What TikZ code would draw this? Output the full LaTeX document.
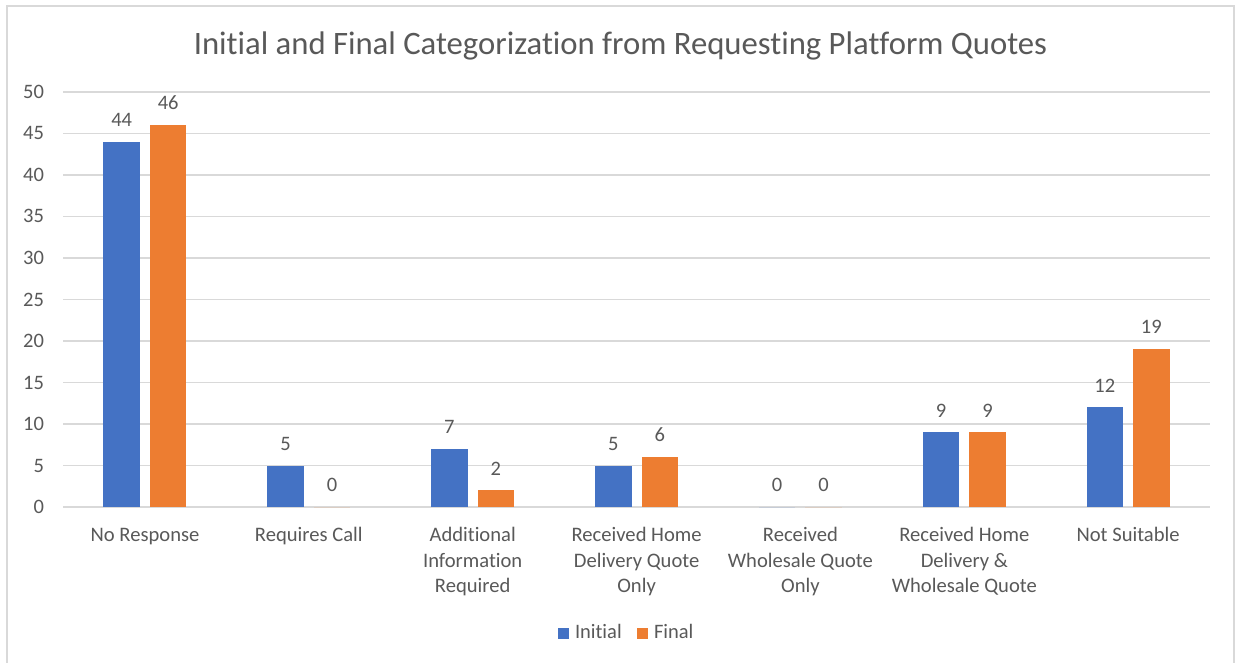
\documentclass[tikz,border=0pt]{standalone}
\usepackage{fontspec}
\setmainfont[Ligatures={NoCommon}]{Carlito}
\definecolor{txt}{HTML}{595959}
\definecolor{gridc}{HTML}{D9D9D9}
\definecolor{cblue}{HTML}{4472C4}
\definecolor{corange}{HTML}{ED7D31}
\begin{document}
\begin{tikzpicture}[x=1pt,y=-1pt,
  every node/.style={text=txt, inner sep=0pt, outer sep=0pt},
  gridline/.style={draw=gridc, line width=1.3pt},
  framel/.style={draw=gridc, line width=1.2pt},
  ticklbl/.style={anchor=base east, font=\fontsize{20.5}{24}\selectfont},
  datalbl/.style={anchor=base, font=\fontsize{20.5}{24}\selectfont},
  catlbl/.style={anchor=base, font=\fontsize{20.6}{24}\selectfont},
  titlelbl/.style={anchor=base, font=\fontsize{32.7}{38}\selectfont},
  leglbl/.style={anchor=base west, font=\fontsize{20.5}{24}\selectfont}]
\useasboundingbox (0,0) rectangle (1235,663);
\fill[white] (0,0) rectangle (1235,663);
\draw[framel] (7,670) -- (7,6) -- (1234,6) -- (1234,670);
\node[titlelbl] (title) at (620.5,55) {Initial and Final Categorization from Requesting Platform Quotes};
\foreach \k in {0,...,10} {
  \pgfmathsetmacro\yy{507-41.5*\k}
  \pgfmathtruncatemacro\v{5*\k}
  \draw[gridline] (63,\yy) -- (1210,\yy);
  \node[ticklbl] (tick\k) at (44,\yy+6.5) {\v};
}
\foreach \i/\a/\b in {0/44/46,1/5/0,2/7/2,3/5/6,4/0/0,5/9/9,6/12/19} {
  \pgfmathsetmacro\c{63+163.857*(\i+0.5)}
  \fill[cblue] (\c-41.5,507) rectangle (\c-5,507-8.3*\a);
  \fill[corange] (\c+5,507) rectangle (\c+41.5,507-8.3*\b);
  \node[datalbl] (ini\i) at (\c-23.25,507-8.3*\a-15.3) {\a};
  \node[datalbl] (fin\i) at (\c+23.25,507-8.3*\b-15.3) {\b};
}
% category labels
\node[catlbl] (c0a) at (145.0,541.5) {No Response};
\node[catlbl] (c1a) at (308.8,541.5) {Requires Call};
\node[catlbl] (c2a) at (472.7,541.5) {Additional};
\node[catlbl] (c2b) at (472.7,567) {Information};
\node[catlbl] (c2c) at (472.7,592.5) {Required};
\node[catlbl] (c3a) at (636.6,541.5) {Received Home};
\node[catlbl] (c3b) at (636.6,567) {Delivery Quote};
\node[catlbl] (c3c) at (636.6,592.5) {Only};
\node[catlbl] (c4a) at (800.4,541.5) {Received};
\node[catlbl] (c4b) at (800.4,567) {Wholesale Quote};
\node[catlbl] (c4c) at (800.4,592.5) {Only};
\node[catlbl] (c5a) at (964.3,541.5) {Received Home};
\node[catlbl] (c5b) at (964.3,567) {Delivery \&};
\node[catlbl] (c5c) at (964.3,592.5) {Wholesale Quote};
\node[catlbl] (c6a) at (1128.1,541.5) {Not Suitable};
% legend
\fill[cblue] (558,628) rectangle (569,639);
\node[leglbl] (legini) at (575,638) {Initial};
\fill[corange] (637,628) rectangle (648,639);
\node[leglbl] (legfin) at (654,638) {Final};
\end{tikzpicture}
\end{document}
